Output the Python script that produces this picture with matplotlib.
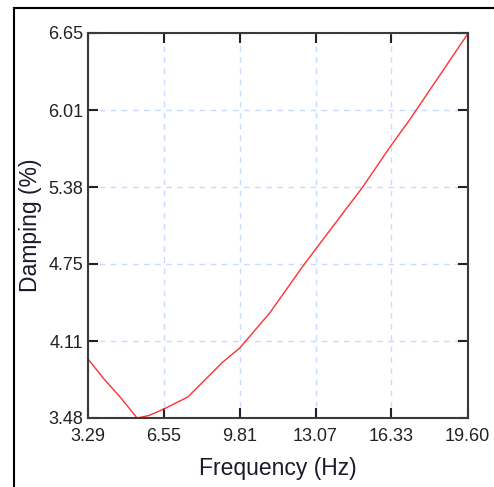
import matplotlib
matplotlib.use("Agg")
import matplotlib.pyplot as plt
from matplotlib.lines import Line2D

plt.rcParams['font.family'] = ['Liberation Sans', 'DejaVu Sans']

# damping curve
freq = [3.29, 3.95, 4.66, 5.40, 5.90, 6.55, 7.58, 9.08, 9.81, 11.10, 12.60, 15.09, 16.33, 17.11, 19.60]
damping = [3.966, 3.807, 3.655, 3.48, 3.50, 3.554, 3.653, 3.94, 4.056, 4.345, 4.75, 5.38, 5.728, 5.934, 6.64]

xticks = [3.29, 6.55, 9.81, 13.07, 16.33, 19.60]
xtick_labels = ["3.29", "6.55", "9.81", "13.07", "16.33", "19.60"]
yticks = [3.48, 4.114, 4.748, 5.382, 6.016, 6.65]
ytick_labels = ["3.48", "4.11", "4.75", "5.38", "6.01", "6.65"]

fig = plt.figure(figsize=(4.94, 4.87), dpi=100)
ax = fig.add_axes([88 / 494, 69 / 487, 379.5 / 494, 385 / 487])

ax.plot(freq, damping, color="#ff3030", lw=1.0)

ax.set_xlim(3.29, 19.60)
ax.set_ylim(3.48, 6.65)
ax.set_xticks(xticks)
ax.set_xticklabels(xtick_labels)
ax.set_yticks(yticks)
ax.set_yticklabels(ytick_labels)

ax.grid(True, color="#c8daff", linestyle=(0, (4, 4)), lw=1.0)
ax.tick_params(direction="in", length=7, width=1.5, color="#222222",
               top=True, right=True, labelsize=13, labelcolor="#222222")
ax.tick_params(axis="x", pad=7)
ax.tick_params(axis="y", pad=3.5)
for s in ax.spines.values():
    s.set_linewidth(1.5)
    s.set_color("#3a3a3a")

ax.set_xlabel("Frequency (Hz)", fontsize=16.5, color="#1a1a2a", labelpad=9)
ax.set_ylabel("Damping (%)", fontsize=16.5, color="#1a1a2a", va="center")
ax.yaxis.set_label_coords(-0.152, 0.5)

# outer panel frame (cropped on right and bottom)
fig.add_artist(Line2D([14 / 494, 1.0], [1 - 8 / 487, 1 - 8 / 487], color="black", lw=1.5,
                      transform=fig.transFigure))
fig.add_artist(Line2D([14 / 494, 14 / 494], [0.0, 1 - 8 / 487], color="black", lw=1.5,
                      transform=fig.transFigure))

plt.savefig("out.png", dpi=100)
